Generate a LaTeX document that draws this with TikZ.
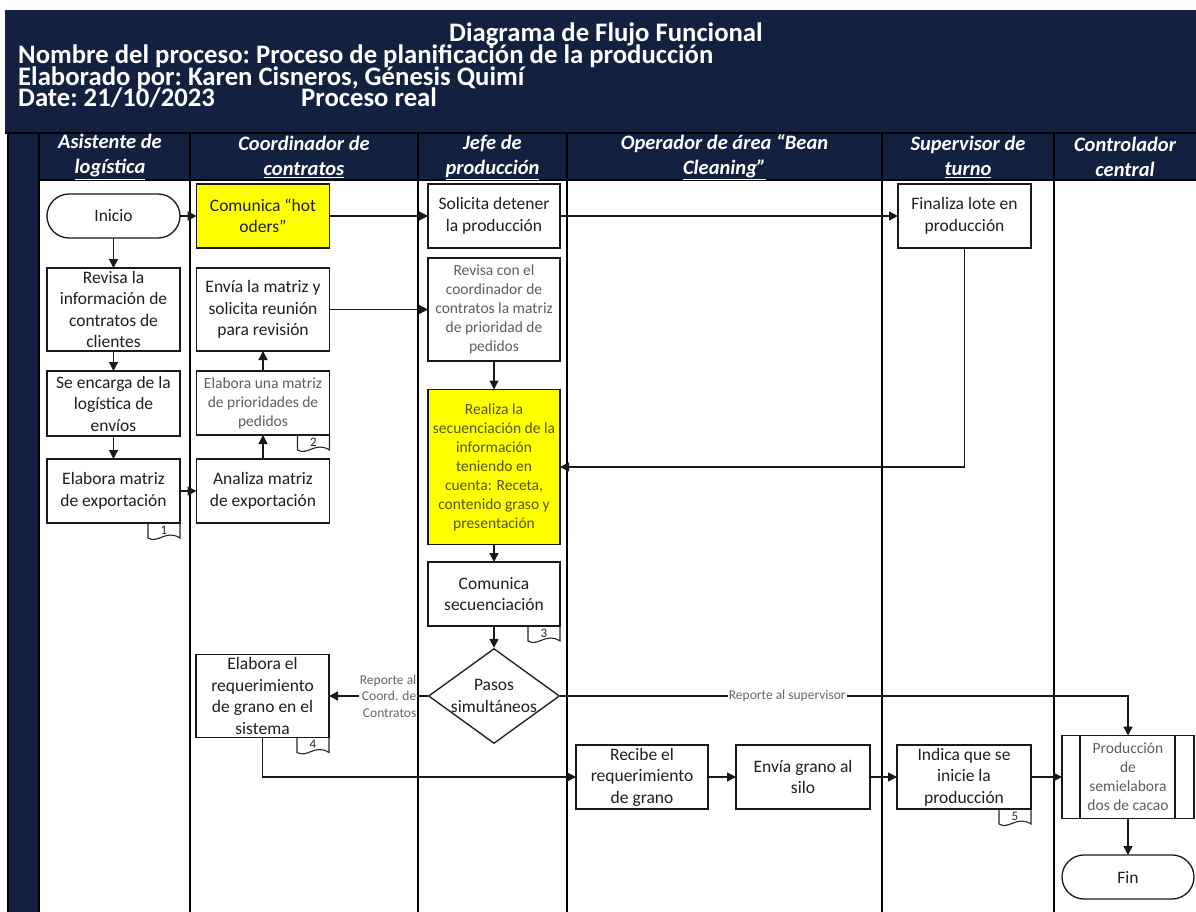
\documentclass[tikz,border=0pt]{standalone}
\usepackage{fontspec}
\setmainfont{Carlito}
\usetikzlibrary{arrows.meta,shapes.geometric,shapes.misc,calc}
\definecolor{navy}{HTML}{132140}
\definecolor{ylw}{HTML}{FFFF00}
\definecolor{gtxt}{HTML}{5E5E5E}
\definecolor{otxt}{HTML}{55550A}
\newcommand\mytab[2]{%
  \draw[line width=1.1pt,black!85] ($(#1.south east)+(-32,0)$) -- ++(0,15)
    .. controls +(10,6) and +(-14,-9) .. ($(#1.south east)+(0,15)$) -- (#1.south east);
  \node[font=\fontsize{13}{13}\selectfont,text=black!85,inner sep=0pt] at ($(#1.south east)+(-16,7)$) {#2};}
\newcommand\titlefont{\bfseries\fontsize{26.7}{21.7}\selectfont\setlength{\lineskiplimit}{-50pt}\frenchspacing}
\begin{document}
\begin{tikzpicture}[x=1pt,y=-1pt,
  lane/.style={line width=1.8pt,black},
  box/.style={draw=black!90,line width=1.3pt,fill=white,inner sep=0pt,outer sep=0pt,
    align=center,font=\fontsize{17.5}{21.5}\selectfont,text=black!88},
  gbox/.style={box,font=\fontsize{15.5}{19}\selectfont,text=gtxt},
  term/.style={box,rounded rectangle},
  arr/.style={line width=1.3pt,black!90,-{Triangle[length=9pt,width=9pt]}},
  lbl/.style={fill=white,inner sep=1pt,align=center,font=\fontsize{13.5}{16.5}\selectfont,text=black!60},
  ttl/.style={text=white,font=\titlefont,inner sep=0pt},
  hdr/.style={text=white,align=center,font=\bfseries\itshape\fontsize{20.5}{25}\selectfont,inner sep=0pt}
]
\useasboundingbox (0,0) rectangle (1196,912);
\fill[white] (0,0) rectangle (1196,912);
\fill[navy] (5,10) rectangle (1196,133);
\fill[navy] (8,133) rectangle (39,912);
\fill[navy] (39,133) rectangle (1196,180);
\draw[lane] (5,133) -- (1196,133);
\draw[lane] (39,180) -- (1196,180);
\foreach \x in {8,39,190,418,567,882,1054} \draw[lane] (\x,133) -- (\x,912);

% title (one block of four lines; base anchor = last line)
\node[ttl,anchor=base west,align=left] (title) at (18,107)
  {\hspace*{431pt}Diagrama de Flujo Funcional\\
   Nombre del proceso: Proceso de planificación de la producción\\
   Elaborado por: Karen Cisneros, Génesis Quimí\\
   \makebox[283pt][l]{Date: 21/10/2023}Proceso real};

% lane headers
\node[hdr] (h1) at (110,157) {Asistente de\\\underline{logística}};
\node[hdr] (h2) at (304,157) {Coordinador de\\\underline{contratos}};
\node[hdr] (h3) at (492.5,157) {Jefe de\\\underline{producción}};
\node[hdr] (h4) at (724.5,157) {Operador de área “Bean\\\underline{Cleaning”}};
\node[hdr] (h5) at (968,157) {Supervisor de\\\underline{turno}};
\node[hdr] (h6) at (1125,157) {Controlador\\central};

% nodes
\node[term,minimum width=133,minimum height=44] (ini) at (113.5,216) {Inicio};
\node[box,fill=ylw,minimum width=133,minimum height=64] (hot) at (263,216) {Comunica “hot\\oders”};
\node[box,minimum width=132,minimum height=64] (sol) at (494,216) {Solicita detener\\la producción};
\node[box,minimum width=133,minimum height=64] (fin1) at (964.5,216) {Finaliza lote en\\producción};

\node[box,minimum width=133,minimum height=83] (rev) at (113.5,309.5) {Revisa la\\información de\\contratos de\\clientes};
\node[box,minimum width=133,minimum height=83] (env) at (263,309.5) {Envía la matriz y\\solicita reunión\\para revisión};
\node[gbox,minimum width=132,minimum height=103] (rcc) at (494,309.5) {Revisa con el\\coordinador de\\contratos la matriz\\de prioridad de\\pedidos};

\node[box,minimum width=133,minimum height=65] (enc) at (113.5,403.5) {Se encarga de la\\logística de\\envíos};
\node[gbox,minimum width=133,minimum height=64] (emp) at (263,403) {Elabora una matriz\\de prioridades de\\pedidos};

\node[box,minimum width=133,minimum height=64] (emx) at (113.5,491) {Elabora matriz\\de exportación};
\node[box,minimum width=133,minimum height=64] (ana) at (263,491) {Analiza matriz\\de exportación};

\node[gbox,fill=ylw,text=otxt,minimum width=132,minimum height=155] (rea) at (494,467) {Realiza la\\secuenciación de la\\información\\teniendo en\\cuenta: Receta,\\contenido graso y\\presentación};
\node[box,minimum width=132,minimum height=64] (csec) at (494,594) {Comunica\\secuenciación};

\node[diamond,draw=black!90,line width=1.3pt,fill=white,inner sep=0pt,minimum width=131,minimum height=95] (pas) at (494,696) {};
\node[font=\fontsize{17.5}{21.5}\selectfont,text=black!88,align=center,inner sep=0pt] (pastxt) at (pas.center) {Pasos\\simultáneos};

\node[box,minimum width=133,minimum height=83] (req) at (262.5,696) {Elabora el\\requerimiento\\de grano en el\\sistema};

\node[box,minimum width=132,minimum height=64] (rec) at (642,777) {Recibe el\\requerimiento\\de grano};
\node[box,minimum width=134,minimum height=64] (silo) at (803,777) {Envía grano al\\silo};
\node[box,minimum width=134,minimum height=64] (ind) at (964,777) {Indica que se\\inicie la\\producción};
\node[gbox,minimum width=132,minimum height=83] (prod) at (1128,777) {Producción\\de\\semielabora\\dos de cacao};
\draw[line width=1.3pt,black!90] ($(prod.north west)+(18,0)$) -- ($(prod.south west)+(18,0)$)
  ($(prod.north east)+(-19,0)$) -- ($(prod.south east)+(-19,0)$);
\node[term,minimum width=132,minimum height=44] (fin) at (1128,877) {Fin};

% document tabs
\mytab{emx}{1}
\mytab{emp}{2}
\mytab{csec}{3}
\mytab{req}{4}
\mytab{ind}{5}

% connectors
\draw[arr] (ini.east) -- (hot.west);
\draw[arr] (hot.east) -- (sol.west);
\draw[arr] (sol.east) -- (fin1.west);
\draw[arr] (fin1.south) |- (rea.east);
\draw[arr] (ini.south) -- (rev.north);
\draw[arr] (rev.south) -- (enc.north);
\draw[arr] (enc.south) -- (emx.north);
\draw[arr] (emx.east) -- (ana.west);
\draw[arr] (ana.north) -- (emp.south);
\draw[arr] (emp.north) -- (env.south);
\draw[arr] (env.east) -- (rcc.west);
\draw[arr] (rcc.south) -- (rea.north);
\draw[arr] (rea.south) -- (csec.north);
\draw[arr] (csec.south) -- (pas.north);
\draw[arr] (pas.west) -- node[lbl,align=right,anchor=east,pos=0.1] (l1) {Reporte al\\Coord. de\\Contratos} (req.east);
\draw[arr] (pas.east) -| node[lbl,pos=0.2] (l2) {Reporte al supervisor} (prod.north);
\draw[arr] (req.south) |- (rec.west);
\draw[arr] (rec.east) -- (silo.west);
\draw[arr] (silo.east) -- (ind.west);
\draw[arr] (ind.east) -- (prod.west);
\draw[arr] (prod.south) -- (fin.north);
\end{tikzpicture}
\end{document}
